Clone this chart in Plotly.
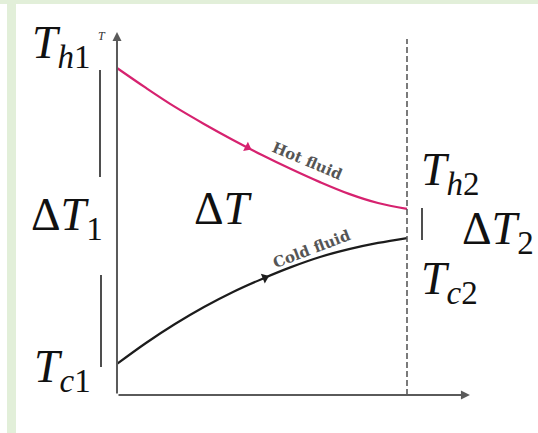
import math
import numpy as np
import plotly.graph_objects as go

# Temperature profiles along a parallel-flow heat exchanger
position = [0.0, 0.1, 0.2, 0.3, 0.4, 0.5, 0.6, 0.7, 0.8, 0.9, 1.0]
hot_temp = [100.0, 93.9, 88.1, 82.9, 78.0, 73.4, 69.1, 65.1, 61.5, 58.7, 56.9]
cold_temp = [9.5, 15.9, 21.7, 26.9, 31.5, 35.5, 39.1, 42.2, 44.6, 46.5, 48.0]

# where the flow-direction arrows sit along each curve
hot_arrow_at = 0.45
cold_arrow_at = 0.51

W, H = 538, 433
X_RANGE = [-0.4034, 1.4517]
Y_RANGE = [-11.62, 120.8]
X_SCALE = W / (X_RANGE[1] - X_RANGE[0])
Y_SCALE = H / (Y_RANGE[1] - Y_RANGE[0])

HOT = "#d6226f"
COLD = "#1c1c1c"
AXIS = "#5a5a5a"
GREEN = "#e2efd9"
MATH_FONT = "Liberation Serif"
MAIN_SIZE = 46
SUB_SIZE = 33


def paper(px, py):
    return px / W, 1 - py / H


def arrow_marker(xs, ys, at, color):
    y_at = float(np.interp(at, xs, ys))
    dx = 0.01
    dy = float(np.interp(at + dx, xs, ys)) - float(np.interp(at - dx, xs, ys))
    ang = math.degrees(math.atan2(-dy * Y_SCALE, 2 * dx * X_SCALE))
    return go.Scatter(
        x=[at], y=[y_at], mode="markers", hoverinfo="skip",
        marker=dict(symbol="triangle-right", size=9, color=color, angle=ang,
                    line=dict(width=0)),
    )


fig = go.Figure()
fig.add_trace(go.Scatter(x=position, y=hot_temp, mode="lines",
                         line=dict(color=HOT, width=2.2, shape="spline"),
                         hoverinfo="skip"))
fig.add_trace(go.Scatter(x=position, y=cold_temp, mode="lines",
                         line=dict(color=COLD, width=2.2, shape="spline"),
                         hoverinfo="skip"))
fig.add_trace(arrow_marker(position, hot_temp, hot_arrow_at, HOT))
fig.add_trace(arrow_marker(position, cold_temp, cold_arrow_at, COLD))

shapes = []
# page border strips
shapes.append(dict(type="rect", xref="paper", yref="paper", x0=0, x1=1,
                   y0=1 - 4 / H, y1=1, fillcolor=GREEN, line=dict(width=0), layer="below"))
shapes.append(dict(type="rect", xref="paper", yref="paper", x0=7 / W, x1=16 / W,
                   y0=0, y1=1, fillcolor=GREEN, line=dict(width=0), layer="below"))
# outlet (end of exchanger) dashed line
shapes.append(dict(type="line", xref="x", yref="y", x0=position[-1], x1=position[-1],
                   y0=0, y1=108.9, line=dict(color=AXIS, width=1.6, dash="6px,3px")))
# temperature-difference brackets
for (px, py0, py1) in [(100, 70, 177), (101, 275, 367), (422, 208, 240)]:
    x0, y0 = paper(px, py0)
    _, y1 = paper(px, py1)
    shapes.append(dict(type="line", xref="paper", yref="paper", x0=x0, x1=x0,
                       y0=y0, y1=y1, line=dict(color="#222", width=1.6)))

annotations = []
# axes with arrowheads
annotations.append(dict(x=0, y=111, ax=0, ay=0, xref="x", yref="y", axref="x", ayref="y",
                        showarrow=True, arrowhead=2, arrowsize=0.9, arrowwidth=2,
                        arrowcolor=AXIS, text=""))
annotations.append(dict(x=1.217, y=0, ax=0, ay=0, xref="x", yref="y", axref="x", ayref="y",
                        showarrow=True, arrowhead=2, arrowsize=0.9, arrowwidth=2,
                        arrowcolor=AXIS, text=""))


def label(text, px, py, size=MAIN_SIZE, anchor="left", angle=0, color="#111",
          family=MATH_FONT):
    x, y = paper(px, py)
    annotations.append(dict(x=x, y=y, xref="paper", yref="paper", text=text,
                            showarrow=False, xanchor=anchor, yanchor="middle",
                            textangle=angle, font=dict(size=size, color=color, family=family)))


def sub(s):
    return f"<sub><span style='font-size:{SUB_SIZE}px'>{s}</span></sub>"


label("<i>T</i>" + sub("<i>h</i>1"), 30, 46)
label("<i>T</i>", 102, 36, size=12, anchor="center", color="#333")
label("Δ<i>T</i>" + sub("1"), 29, 218)
label("<i>T</i>" + sub("<i>c</i>1"), 32, 370)
label("Δ<i>T</i>", 192, 208)
label("<i>T</i>" + sub("<i>h</i>2"), 419, 173)
label("Δ<i>T</i>" + sub("2"), 460, 232)
label("<i>T</i>" + sub("<i>c</i>2"), 419, 282)
label("<b>Hot fluid</b>", 307, 161, size=15, anchor="center", angle=23,
      color="#555", family="DejaVu Serif")
label("<b>Cold fluid</b>", 312, 249, size=15, anchor="center", angle=-21,
      color="#555", family="DejaVu Serif")

fig.update_layout(
    width=W, height=H,
    margin=dict(l=0, r=0, t=0, b=0),
    paper_bgcolor="white", plot_bgcolor="white",
    showlegend=False,
    xaxis=dict(range=X_RANGE, visible=False, fixedrange=True),
    yaxis=dict(range=Y_RANGE, visible=False, fixedrange=True),
    shapes=shapes, annotations=annotations,
)

fig.write_html("out.html")
